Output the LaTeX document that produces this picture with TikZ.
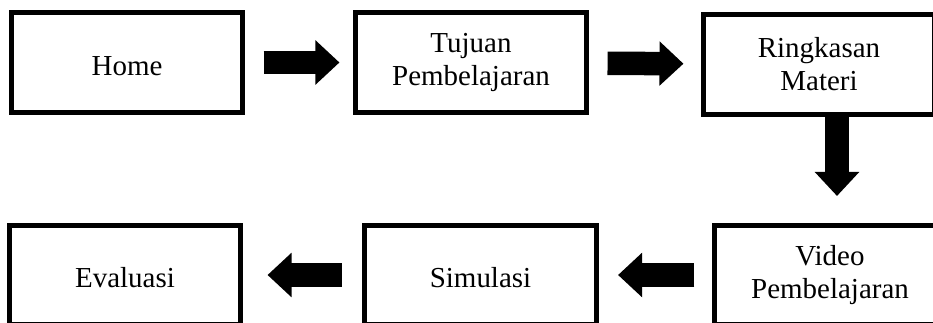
\documentclass[tikz,border=0pt]{standalone}
\usepackage{fontspec}
\setmainfont{Liberation Serif}
\usetikzlibrary{arrows.meta}

\begin{document}
\begin{tikzpicture}[x=0.025cm, y=-0.025cm,
    kotak/.style={draw=black, fill=white, line width=0.125cm, minimum width=5.775cm,
        minimum height=2.475cm, inner sep=0pt, align=center,
        font=\fontsize{20.6}{23.5}\selectfont,
        execute at begin node={\rule{0pt}{0.64cm}}},
    duabaris/.style={kotak, execute at begin node={\rule{0pt}{0.8cm}}},
    panah/.style={line width=0.5875cm, -{Triangle[width=1.075cm, length=0.6cm]}}]
    % 边界
    \useasboundingbox (0,0) rectangle (933,322);
    \clip (0,0) rectangle (933,322);

    % 上排
    \node[kotak] (home) at (127,62.5) {Home};
    \node[duabaris] (tujuan) at (471,62.5) {Tujuan\\Pembelajaran};
    \node[duabaris] (ringkasan) at (819,64.5) {Ringkasan\\Materi};

    % 下排
    \node[duabaris] (video) at (830,275) {Video\\Pembelajaran};
    \node[kotak] (simulasi) at (480.5,275) {Simulasi};
    \node[kotak] (evaluasi) at (125,275) {Evaluasi};

    % 箭头
    \draw[panah, shorten <=0.4625cm, shorten >=0.3375cm] (home) -- (tujuan);
    \draw[panah, shorten <=0.4625cm, shorten >=0.4375cm] (tujuan) -- (ringkasan);
    \coordinate (ujung) at (837,196);
    \draw[panah] (ringkasan.south -| ujung) -- (ujung);
    \draw[panah, shorten <=0.4375cm, shorten >=0.4875cm] (video) -- (simulasi);
    \draw[panah, shorten <=0.5125cm, shorten >=0.6125cm] (simulasi) -- (evaluasi);
\end{tikzpicture}
\end{document}
